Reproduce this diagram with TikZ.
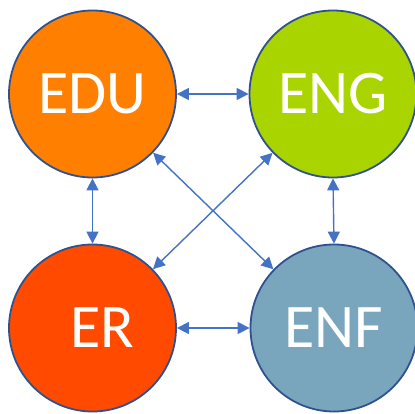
\documentclass[tikz,border=0pt]{standalone}
\usepackage{fontspec}
\setmainfont{Carlito}
\usetikzlibrary{arrows.meta}
\definecolor{cEDU}{RGB}{255,128,0}
\definecolor{cENG}{RGB}{169,212,0}
\definecolor{cER}{RGB}{255,74,0}
\definecolor{cENF}{RGB}{122,166,189}
\definecolor{rim}{RGB}{47,82,143}
\definecolor{link}{RGB}{68,114,196}
\begin{document}
\begin{tikzpicture}[x=1pt,y=-1pt,
  ball/.style={circle,draw=rim,line width=1.8pt,minimum size=167pt,inner sep=0pt,
    text=white,font=\fontsize{62}{62}\selectfont},
  conn/.style={draw=link,line width=1.4pt,{Triangle[length=12pt,width=12pt]}-{Triangle[length=12pt,width=12pt]}}]
\useasboundingbox (0,0) rectangle (415,413);
\clip (0,0) rectangle (415,413);
\node[ball,fill=cEDU] (EDU) at (92.5,94) {EDU};
\node[ball,fill=cENG] (ENG) at (333,94) {ENG};
\node[ball,fill=cER] (ER) at (92.5,328) {\hspace*{19pt}ER};
\node[ball,fill=cENF] (ENF) at (334,328) {ENF};
\draw[conn] (EDU.east) -- (ENG.west);
\draw[conn] (ER.east) -- (ENF.west);
\draw[conn] (EDU.south) -- (ER.north);
\draw[conn] (ENG.south) -- (ENF.north);
\draw[conn] (EDU) -- (ENF);
\draw[conn] (ENG) -- (ER);
\end{tikzpicture}
\end{document}
